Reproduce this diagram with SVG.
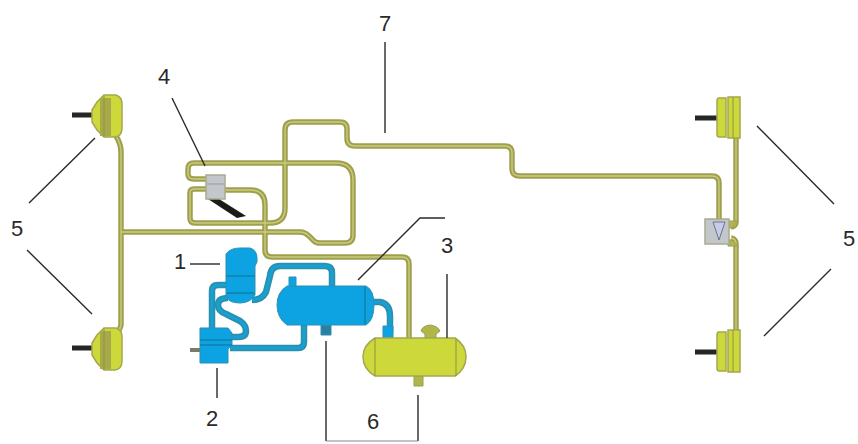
<svg xmlns="http://www.w3.org/2000/svg" xmlns:xlink="http://www.w3.org/1999/xlink" width="858" height="444" viewBox="0 0 858 444">
<style>
.t{font-family:"Liberation Sans",Arial,sans-serif;font-size:22px;fill:#2a2a2a;text-anchor:middle}
.ld{fill:none;stroke:#2a2a2a;stroke-width:1.4}
.po{fill:none;stroke:#9ea04c;stroke-width:5.5;stroke-linejoin:round}
.pi{fill:none;stroke:#c9ca80;stroke-width:1.4;stroke-linejoin:round}
.bo{fill:none;stroke:#2f8fa8;stroke-width:6.5;stroke-linejoin:round}
.bi{fill:none;stroke:#12a0d8;stroke-width:3;stroke-linejoin:round}
.blue{fill:#0da2e2;stroke:#2f8fb0;stroke-width:1}
.yel{fill:#cdd83a;stroke:#a3a84e;stroke-width:1.5}
.yd{fill:#b0b64a;stroke:#9a9e50;stroke-width:1}
.sep{fill:none;stroke:#17708f;stroke-width:1}
.sepy{fill:none;stroke:#8f9440;stroke-width:1}
.val{fill:#c3c6cb;stroke:#a9ab8c;stroke-width:1.5}
.bolt{fill:none;stroke:#262626;stroke-width:5}
</style>
<defs>
<filter id="b" x="-5%" y="-5%" width="110%" height="110%"><feGaussianBlur stdDeviation="0.6"/></filter>
<path id="p1" d="M116 136 Q121 144 121 152 V325 Q120 330 115 336"/>
<path id="p2" d="M121 232 H300 Q305 232 309 236 L314 241 Q316 243 320 243 H345 Q353 243 353 235 V180 Q353 163 336 163 H194 Q188 163 188 169 V174 Q188 179 194 179 H206"/>
<path id="p3" d="M206 189 H194 Q190 189 190 193 V218 Q190 223 195 223 H270 Q285 223 285 208 V130 Q285 122 293 122 H340 Q347 122 347 129 V138 Q347 146 355 146 H505 Q512 146 512 153 V169 Q512 176 520 176 H712 Q719 176 719 183 V220"/>
<path id="p4" d="M225 190 H250 Q265 190 265 205 V250 Q265 257 272 257 H402 Q409 257 409 264 V340"/>
<path id="p5" d="M736 138 V222 Q736 226 731 227"/>
<path id="p6" d="M731 238 Q736 239 736 244 V332"/>
<path id="q1" d="M252 300 Q262 300 266 292 L270 276 Q271 266 280 266 H325 Q332 266 332 273 V287"/>
<path id="q2" d="M228 285 H218 Q212 285 212 291 V328"/>
<path id="q3" d="M228 298 Q218 298 218 305 Q218 311 226 314 L240 321 Q246 325 246 331 Q246 337 238 337 H230"/>
<path id="q4" d="M230 348 H298 Q304 348 304 342 V324"/>
<path id="q5" d="M372 302 H380 Q390 304 390 316 V332"/>
</defs>
<rect width="858" height="444" fill="#fff"/>
<g id="connectors" filter="url(#b)">
<use xlink:href="#p1" class="po"/><use xlink:href="#p2" class="po"/><use xlink:href="#p3" class="po"/><use xlink:href="#p4" class="po"/><use xlink:href="#p5" class="po"/><use xlink:href="#p6" class="po"/>
<use xlink:href="#p1" class="pi"/><use xlink:href="#p2" class="pi"/><use xlink:href="#p3" class="pi"/><use xlink:href="#p4" class="pi"/><use xlink:href="#p5" class="pi"/><use xlink:href="#p6" class="pi"/>
<use xlink:href="#q1" class="bo"/><use xlink:href="#q2" class="bo"/><use xlink:href="#q3" class="bo"/><use xlink:href="#q4" class="bo"/><use xlink:href="#q5" class="bo"/>
<use xlink:href="#q1" class="bi"/><use xlink:href="#q2" class="bi"/><use xlink:href="#q3" class="bi"/><use xlink:href="#q4" class="bi"/><use xlink:href="#q5" class="bi"/>
</g>
<g id="brake-front-top" filter="url(#b)">
<path class="bolt" d="M72 115 H93"/>
<path class="yel" d="M92 110 L97 102 L104 95 H116 Q122 97 122 104 V128 Q122 136 115 137 H104 L97 130 L92 122 Z"/>
<path d="M100 98 H111 V136 H100 Z" fill="#a8a948"/>
<path class="sepy" d="M104 96 V137"/>
</g>
<g id="brake-front-bottom" filter="url(#b)">
<path class="bolt" d="M72 348 H93"/>
<path class="yel" d="M92 343 L97 335 L104 328 H116 Q122 330 122 337 V361 Q122 369 115 370 H104 L97 363 L92 355 Z"/>
<path d="M100 331 H111 V369 H100 Z" fill="#a8a948"/>
<path class="sepy" d="M104 329 V370"/>
</g>
<g id="brake-rear-top" filter="url(#b)">
<path class="bolt" d="M695 118 H718"/>
<path class="yel" d="M719 98 H726 V137 H719 Q717 137 717 134 V101 Q717 98 719 98 Z"/>
<path class="yel" d="M728 97 H740 V138 H728 Z"/>
<path class="sepy" d="M733 97 V138"/>
</g>
<g id="brake-rear-bottom" filter="url(#b)">
<path class="bolt" d="M695 352 H718"/>
<path class="yel" d="M719 332 H726 V371 H719 Q717 371 717 368 V335 Q717 332 719 332 Z"/>
<path class="yel" d="M728 330 H740 V372 H728 Z"/>
<path class="sepy" d="M733 330 V372"/>
</g>
<g id="valve-rear" filter="url(#b)">
<path class="yd" d="M728 221 H738 L732 228 H728 Z M728 240 H732 L738 246 H728 Z"/>
<rect class="val" x="705" y="219" width="24" height="25"/>
<path d="M713 222 L719 240 L725 222 Z" fill="#c5cce6" stroke="#6f748f" stroke-width="1"/>
</g>
<g id="valve-4" filter="url(#b)">
<path d="M208 199 L219 199 L246 216 L237 218 Z" fill="#1c1c14"/>
<rect class="val" x="206" y="175" width="19" height="24"/>
<path d="M207 184 H224" stroke="#999" stroke-width="1"/>
</g>
<g id="filter-1" filter="url(#b)">
<path class="blue" d="M226 254 Q230 248 240 248 H250 Q257 250 257 258 V262 L255 266 V295 Q250 303 240 303 Q228 303 226 296 Z"/>
<path class="sep" d="M226 276 H255 M227 293 H254"/>
</g>
<g id="compressor-2" filter="url(#b)">
<path d="M190 350 H200" stroke="#7a7a66" stroke-width="4"/>
<path class="blue" d="M200 328 H228 L232 333 V345 L228 349 V363 H200 Z"/>
<path class="sep" d="M200 340 H232 M200 345 H232"/>
</g>
<g id="tank-air" filter="url(#b)">
<path class="blue" d="M289 277 H296 V288 H289 Z"/>
<path class="blue" d="M321 325 H331 V335 H321 Z" style="fill:#2a80a0"/>
<path class="blue" d="M383 326 H393 V338 H383 Z"/>
<path class="blue" d="M287 286 H366 Q374 290 374 305 Q374 320 366 325 H287 Q277 318 277 305 Q277 292 287 286 Z"/>
<path class="sep" d="M365 287 V324"/>
</g>
<g id="tank-yellow-3" filter="url(#b)">
<path class="yd" d="M421 331 Q422 326 430 325 Q438 326 440 331 L436 334 V338 H425 V334 Z"/>
<path class="yd" d="M414 376 H423 V386 H414 Z"/>
<path class="yel" d="M375 338 H455 Q466 345 466 357 Q466 369 455 376 H375 Q363 369 363 357 Q363 345 375 338 Z"/>
<path class="sepy" d="M375 338 V376 M456 338 V376"/>
</g>
<g id="leaders">
<path class="ld" d="M172 98 L205 166"/>
<path class="ld" d="M385 42 V133"/>
<path class="ld" d="M95 138 L29 203 M27 250 L92 314"/>
<path class="ld" d="M757 126 L834 204 M831 269 L764 336"/>
<path class="ld" d="M190 264 H220"/>
<path class="ld" d="M217 368 V398"/>
<path class="ld" d="M447 274 V338"/>
<path class="ld" d="M358 280 L420 218 H445"/>
<path class="ld" d="M326 341 V441 M418 395 V441"/>
<path d="M326 441 H418" fill="none" stroke="#888" stroke-width="1.2"/>
</g>
<g id="labels">
<text class="t" x="385" y="31">7</text>
<text class="t" x="164" y="84">4</text>
<text class="t" x="17" y="236">5</text>
<text class="t" x="849" y="246">5</text>
<text class="t" x="180" y="269">1</text>
<text class="t" x="447" y="253">3</text>
<text class="t" x="212" y="426">2</text>
<text class="t" x="373" y="429">6</text>
</g>
</svg>
